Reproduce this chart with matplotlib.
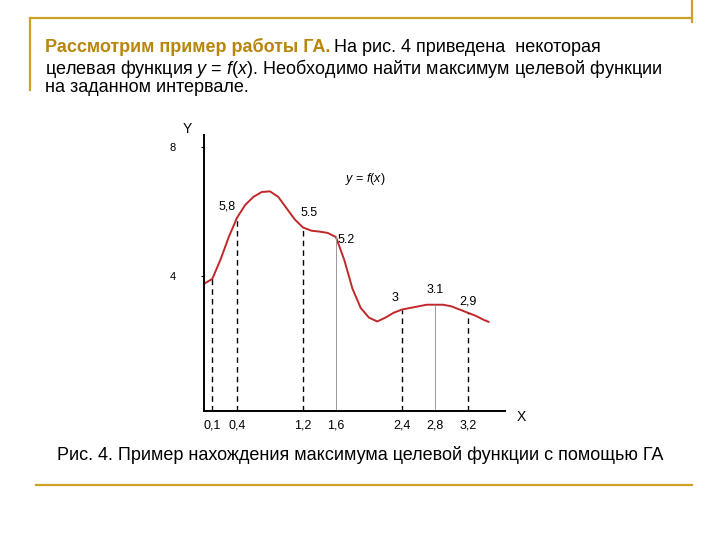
import matplotlib
matplotlib.use('Agg')
import matplotlib.pyplot as plt
from matplotlib.lines import Line2D

plt.rcParams['font.family'] = ['Liberation Sans', 'DejaVu Sans']
plt.rcParams['mathtext.fontset'] = 'custom'
plt.rcParams['mathtext.it'] = 'Liberation Sans:italic'
plt.rcParams['mathtext.rm'] = 'Liberation Sans'

# curve
xs = [0, 0.1, 0.2, 0.3, 0.4, 0.5, 0.6, 0.7, 0.8, 0.9, 1.0, 1.1, 1.2, 1.3, 1.4, 1.5, 1.6, 1.7,
      1.8, 1.9, 2.0, 2.1, 2.2, 2.3, 2.4, 2.5, 2.6, 2.7, 2.8, 2.9, 3.0, 3.1, 3.2, 3.3, 3.4, 3.45]
ys = [3.75, 3.9, 4.5, 5.2, 5.8, 6.2, 6.45, 6.6, 6.62, 6.45, 6.1, 5.75, 5.5, 5.4, 5.37, 5.33, 5.2, 4.5,
      3.6, 3.0, 2.7, 2.58, 2.7, 2.85, 2.95, 3.0, 3.05, 3.1, 3.1, 3.1, 3.05, 2.95, 2.85, 2.75, 2.62, 2.57]

mark_x = [0.1, 0.4, 1.2, 1.6, 2.4, 2.8, 3.2]
mark_y = [3.9, 5.8, 5.5, 5.2, 2.95, 3.1, 2.85]
mark_dashed = [True, True, True, False, True, False, True]
mark_lbl = ['0,1', '0,4', '1,2', '1,6', '2,4', '2,8', '3,2']
val_lbl = {0.4: '5,8', 1.2: '5.5', 1.6: '5.2', 2.4: '3', 2.8: '3.1', 3.2: '2,9'}
y_ticks = [4, 8]

W, H = 720, 540
fig = plt.figure(figsize=(7.2, 5.4), dpi=100)
gold = '#C9A227'

def fx(p):
    return p / W

def fy(p):
    return 1 - p / H

# slide decorations
for (x0, y0, x1, y1) in [(30, 18, 692, 18), (30, 18, 30, 90), (692, 0, 692, 22), (36, 485, 692, 485)]:
    fig.add_artist(Line2D([fx(x0), fx(x1)], [fy(y0), fy(y1)], color=gold, lw=1.6))

# heading
fs = 13
t = fig.text(fx(45), fy(47), 'Рассмотрим пример работы ГА.', color='#B8860B', fontsize=fs,
             fontweight='bold', va='center')
fig.canvas.draw()
bb = t.get_window_extent()
fig.text(bb.x1 / W + 0.005, fy(47), 'На рис. 4 приведена  некоторая', fontsize=fs, va='center')
fig.text(fx(45), fy(68), 'целевая функция $y$ = $f(x)$. Необходимо найти максимум целевой функции',
         fontsize=fs, va='center')
fig.text(fx(45), fy(88), 'на заданном интервале.', fontsize=fs, va='center')
fig.text(fx(57), fy(455), 'Рис. 4. Пример нахождения максимума целевой функции с помощью ГА',
         fontsize=fs, va='center')

# chart
ax = fig.add_axes([fx(204), fy(411), (505 - 204) / W, (411 - 135) / H])
ax.set_xlim(0, 3.65)
ax.set_ylim(-0.2, 8.37)
for s in ['top', 'right']:
    ax.spines[s].set_visible(False)
for s in ['left', 'bottom']:
    ax.spines[s].set_linewidth(1.4)

ax.plot(xs, ys, color='#C0282A', lw=1.4)
for x, y, d in zip(mark_x, mark_y, mark_dashed):
    if d:
        ax.plot([x, x], [-0.2, y], color='black', lw=1.0, ls=(0, (4, 3)))
    else:
        ax.plot([x, x], [-0.2, y], color='#999999', lw=0.7)
for x, lbl in val_lbl.items():
    y = mark_y[mark_x.index(x)]
    dx = {0.4: -0.12, 1.2: 0.08, 1.6: 0.12, 2.4: -0.08, 2.8: 0.0, 3.2: 0.0}[x]
    dy = {0.4: 0.35, 1.2: 0.45, 1.6: -0.1, 2.4: 0.35, 2.8: 0.45, 3.2: 0.35}[x]
    ax.text(x + dx, y + dy, lbl, fontsize=9, ha='center', va='center')
ax.text(1.95, 7.0, '$y$ = $f(x)$', fontsize=9, ha='center', va='center')

ax.set_yticks(y_ticks)
ax.set_yticklabels([str(v) for v in y_ticks], fontsize=8)
ax.tick_params(axis='y', length=2, pad=18)
ax.set_xticks(mark_x)
ax.set_xticklabels(mark_lbl, fontsize=9)
ax.tick_params(axis='x', length=0, pad=6)
ax.text(-0.2, 8.55, 'Y', fontsize=10, ha='center', va='center', clip_on=False)
ax.text(3.85, -0.4, 'X', fontsize=10, ha='center', va='center', clip_on=False)

fig.savefig('out.png', dpi=100)
